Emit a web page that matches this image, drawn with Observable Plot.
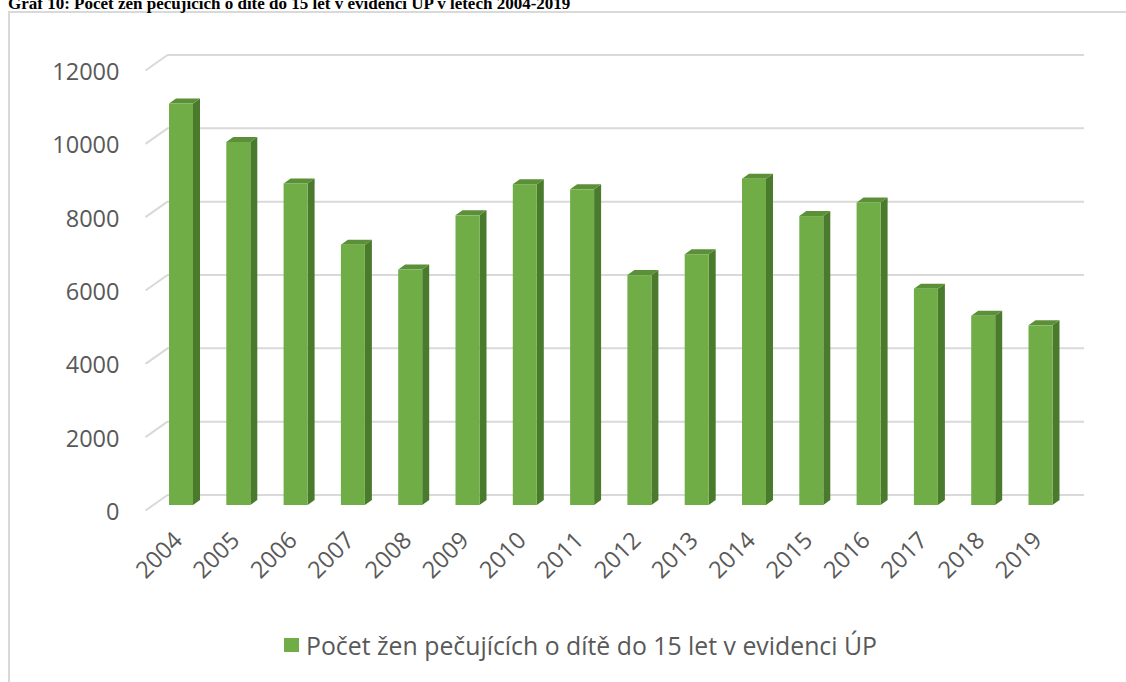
<!DOCTYPE html>
<html>
<head>
<meta charset="utf-8">
<script src="https://cdn.jsdelivr.net/npm/d3@7"></script>
<script src="https://cdn.jsdelivr.net/npm/@observablehq/plot@0.6"></script>
<style>
  html, body { margin: 0; padding: 0; background: #fff; overflow: hidden; }
  #page { position: relative; width: 1126px; height: 682px; overflow: hidden; background: #fff; }
  #title { position: absolute; left: 8px; top: -5px; font-family: "Liberation Serif", "Times New Roman", serif; font-weight: bold; font-size: 17px; line-height: 17px; color: #000; white-space: nowrap; }
  #frame { position: absolute; left: 8px; top: 11px; width: 1200px; height: 800px; border: 2px solid #d9d9d9; box-sizing: border-box; }
  #chart { position: absolute; left: 0; top: 0; }
  #legend { position: absolute; left: 284px; top: 630px; height: 30px; display: flex; align-items: center; white-space: nowrap; }
  #legend .sw { width: 15px; height: 14px; background: #70ad47; margin-right: 7px; flex: none; }
  #legend .lbl { font-family: "Open Sans", sans-serif; font-size: 25px; color: #595959; transform-origin: left center; display: inline-block; }
</style>
</head>
<body>
<div id="page">
  <div id="frame"></div>
  <div id="title"></div>
  <div id="chart"></div>
  <div id="legend"><span class="sw"></span><span class="lbl"></span></div>
</div>
<script>
// ---- data ----
const titleText = "Graf 10: Počet žen pečujících o dítě do 15 let v evidenci ÚP v letech 2004-2019";
const seriesName = "Počet žen pečujících o dítě do 15 let v evidenci ÚP";
const years = [2004, 2005, 2006, 2007, 2008, 2009, 2010, 2011, 2012, 2013, 2014, 2015, 2016, 2017, 2018, 2019];
const values = [10950, 9900, 8770, 7100, 6420, 7900, 8750, 8610, 6270, 6840, 8900, 7880, 8250, 5900, 5160, 4900];
const yTicks = [0, 2000, 4000, 6000, 8000, 10000, 12000];

// ---- layout ----
const W = 1126, H = 682;
const mL = 181, mR = 85.5, mT = 65, mB = 177;
const pxYear = (W - mL - mR) / (years[years.length - 1] - years[0]);
const pxUnit = (H - mT - mB) / (yTicks[yTicks.length - 1] - yTicks[0]);
const X = px => years[0] + (px - mL) / pxYear;   // pixel -> year units
const halfW = 12 / pxYear;       // half width of bar front face
const dX = 7 / pxYear;           // bar depth (x)
const dY = 5 / pxUnit;           // bar depth (y)
const backUp = 10.5 / pxUnit;    // back wall offset
const frontDown = 5 / pxUnit;    // floor front edge offset

const bars = years.map((year, i) => ({year, value: values[i]}));

const sideFaces = bars.flatMap((d, i) => [
  {z: i, x: d.year + halfW, y1: 0, y2: d.value},
  {z: i, x: d.year + halfW + dX, y1: dY, y2: d.value + dY}
]);
const topFaces = bars.flatMap((d, i) => [
  {z: i, x: d.year - halfW, y1: d.value, y2: d.value},
  {z: i, x: d.year - halfW + dX, y1: d.value, y2: d.value + dY},
  {z: i, x: d.year + halfW, y1: d.value, y2: d.value + dY},
  {z: i, x: d.year + halfW + dX, y1: d.value + dY, y2: d.value + dY}
]);

const grid = "#d9d9d9";
const textColor = "#595959";

const chart = Plot.plot({
  width: W, height: H,
  marginLeft: mL, marginRight: mR, marginTop: mT, marginBottom: mB,
  x: {domain: [years[0], years[years.length - 1]], axis: null},
  y: {domain: [yTicks[0], yTicks[yTicks.length - 1]], axis: null},
  style: {background: "transparent", overflow: "visible"},
  marks: [
    Plot.ruleY(yTicks, {y: d => d + backUp, x1: X(167), x2: X(1084), stroke: grid, strokeWidth: 2}),
    Plot.link(yTicks, {x1: X(145), y1: d => d - frontDown, x2: X(167), y2: d => d + backUp, stroke: grid, strokeWidth: 2}),
    Plot.text(yTicks, {x: X(119), y: d => d, dy: 7, text: d => String(d), textAnchor: "end", fontSize: 23.5, fontFamily: "Open Sans", fill: textColor}),
    Plot.area(sideFaces, {x1: "x", y1: "y1", y2: "y2", z: "z", fill: "#4a7a2c"}),
    Plot.area(topFaces, {x1: "x", y1: "y1", y2: "y2", z: "z", fill: "#5b8f38"}),
    Plot.rect(bars, {x1: d => d.year - halfW, x2: d => d.year + halfW, y1: 0, y2: "value", fill: "#70ad47"}),
    Plot.text(years, {x: d => d, y: 0, dx: -3, dy: 31, rotate: -45, text: d => String(d), textAnchor: "end", fontSize: 23.5, fontFamily: "Open Sans", fill: textColor})
  ]
});
document.getElementById("chart").appendChild(chart);

document.getElementById("title").textContent = titleText;
const lbl = document.querySelector("#legend .lbl");
lbl.textContent = seriesName;
const targetW = 571;
const w = lbl.getBoundingClientRect().width;
if (w > 0) lbl.style.transform = `scaleX(${targetW / w})`;
</script>
</body>
</html>
